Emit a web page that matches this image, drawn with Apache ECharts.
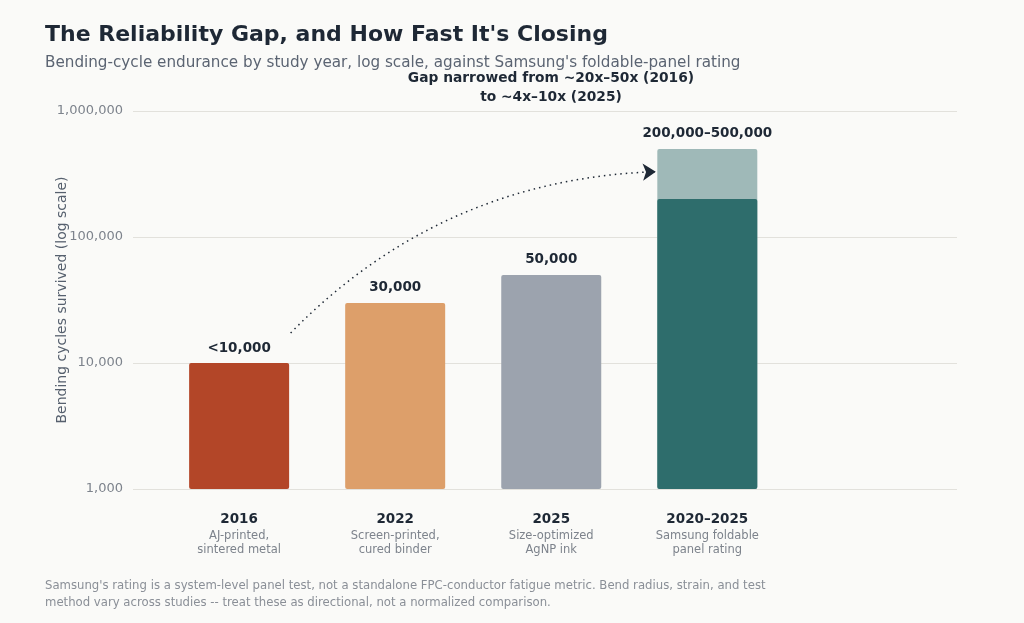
<!DOCTYPE html>
<html>
<head>
<meta charset="utf-8">
<title>The Reliability Gap</title>
<script src="https://cdn.jsdelivr.net/npm/echarts@6/dist/echarts.min.js"></script>
<style>
  html, body { margin: 0; padding: 0; background: #fafaf8; }
  #chart { width: 1024px; height: 623px; }
</style>
</head>
<body>
<div id="chart"></div>
<script>
// data
const years = ['2016', '2022', '2025', '2020–2025'];
const methods = ['AJ-printed,\nsintered metal', 'Screen-printed,\ncured binder', 'Size-optimized\nAgNP ink', 'Samsung foldable\npanel rating'];
const cycles = [10000, 30000, 50000, 200000];
const samsungUpper = 500000; // top of the Samsung rating range
const valueLabels = ['<10,000', '30,000', '50,000', '200,000–500,000'];
const barColors = ['#b34628', '#dd9f6a', '#9ca3ae', '#2e6d6c'];
const rangeColor = '#9fb9b8';
// annotation arrow: from just right of the 2016 bar up to the Samsung range
const arrowFrom = [0.33, 17300];
const arrowTo = [2.67, 330000];

const chart = echarts.init(document.getElementById('chart'), null, { renderer: 'canvas' });
const font = 'DejaVu Sans';

const barData = cycles.map((v, i) => ({
  value: [i, v],
  itemStyle: { color: barColors[i] },
  label: { show: i < 3, formatter: valueLabels[i] }
}));

const valueLabel = {
  position: 'top', distance: 8,
  fontFamily: font, fontSize: 13.5, fontWeight: 'bold', color: '#1e2835'
};

const option = {
  backgroundColor: '#fafaf8',
  textStyle: { fontFamily: font },
  animation: false,
  title: [
    {
      text: "The Reliability Gap, and How Fast It's Closing",
      left: 40, top: 19,
      textStyle: { fontFamily: font, fontSize: 22, fontWeight: 'bold', color: '#1e2835' }
    },
    {
      text: "Bending-cycle endurance by study year, log scale, against Samsung's foldable-panel rating",
      left: 40, top: 51,
      textStyle: { fontFamily: font, fontSize: 15.2, fontWeight: 'normal', color: '#5b6472' }
    },
    {
      text: 'Gap narrowed from ~20x–50x (2016)\nto ~4x–10x (2025)',
      left: 546, top: 64, textAlign: 'center',
      textStyle: { fontFamily: font, fontSize: 13.8, fontWeight: 'bold', color: '#1e2835', lineHeight: 19, align: 'center' }
    },
    {
      text: "Samsung's rating is a system-level panel test, not a standalone FPC-conductor fatigue metric. Bend radius, strain, and test\nmethod vary across studies -- treat these as directional, not a normalized comparison.",
      left: 40, top: 572,
      textStyle: { fontFamily: font, fontSize: 11.7, fontWeight: 'normal', color: '#8a8f97', lineHeight: 17 }
    }
  ],
  grid: { left: 133, right: 67, top: 111, bottom: 134, containLabel: false },
  xAxis: {
    type: 'value',
    min: -0.68,
    max: 4.6,
    splitLine: { show: false },
    axisLine: { show: false },
    axisTick: { show: false },
    axisLabel: {
      customValues: [0, 1, 2, 3],
      margin: 20,
      formatter: function (v) {
        const i = Math.round(v);
        return '{y|' + years[i] + '}\n{m|' + methods[i] + '}';
      },
      rich: {
        y: { fontFamily: font, fontSize: 13.5, fontWeight: 'bold', color: '#1e2835', lineHeight: 20, align: 'center' },
        m: { fontFamily: font, fontSize: 11.5, color: '#7d838c', lineHeight: 14, align: 'center' }
      }
    }
  },
  yAxis: {
    type: 'log',
    logBase: 10,
    min: 1000,
    max: 1000000,
    name: 'Bending cycles survived (log scale)',
    nameLocation: 'middle',
    nameGap: 64,
    nameMoveOverlap: false,
    nameTextStyle: { fontFamily: font, fontSize: 14, color: '#56606e' },
    axisLine: { show: false },
    axisTick: { show: false },
    splitLine: { show: true, lineStyle: { color: '#e2e1dc', width: 1 } },
    axisLabel: {
      margin: 10,
      fontFamily: font,
      fontSize: 13,
      color: '#7d838c',
      formatter: function (v) { return Math.round(v).toLocaleString('en-US'); }
    }
  },
  series: [
    {
      name: 'range',
      type: 'bar',
      barWidth: 100,
      barGap: '-100%',
      data: [{
        value: [3, samsungUpper],
        itemStyle: { color: rangeColor },
        label: { show: true, formatter: valueLabels[3] }
      }],
      itemStyle: { borderRadius: 2 },
      label: valueLabel,
      z: 2
    },
    {
      name: 'cycles',
      type: 'bar',
      barWidth: 100,
      barGap: '-100%',
      data: barData,
      itemStyle: { borderRadius: 2 },
      label: valueLabel,
      z: 3
    },
    {
      name: 'arrow',
      type: 'lines',
      coordinateSystem: 'cartesian2d',
      symbol: ['none', 'arrow'],
      symbolSize: 13,
      lineStyle: { color: '#1e2835', width: 1.5, type: [1.5, 4], curveness: 0.2, opacity: 1 },
      data: [{ coords: [arrowFrom, arrowTo] }],
      z: 5
    }
  ]
};

chart.setOption(option);
</script>
</body>
</html>
